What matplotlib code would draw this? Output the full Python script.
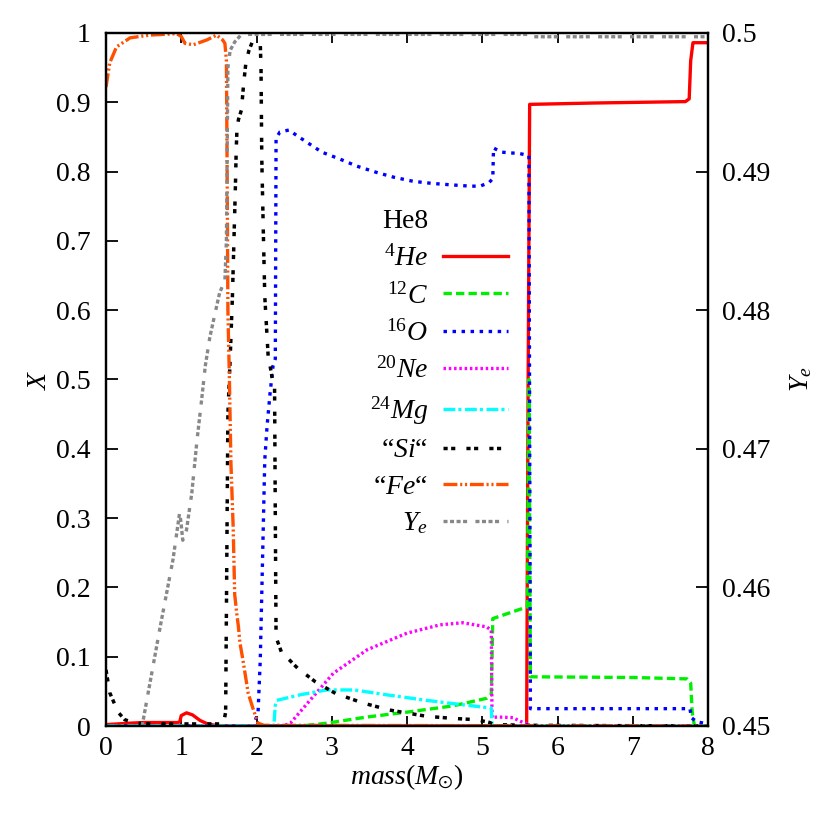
import matplotlib
matplotlib.use("Agg")
import matplotlib.pyplot as plt
from matplotlib.lines import Line2D
from matplotlib.ticker import FormatStrFormatter

plt.rcParams['font.family'] = 'serif'
plt.rcParams['font.serif'] = ['Liberation Serif', 'DejaVu Serif']
plt.rcParams['mathtext.fontset'] = 'custom'
plt.rcParams['mathtext.rm'] = 'Liberation Serif'
plt.rcParams['mathtext.it'] = 'Liberation Serif:italic'
plt.rcParams['mathtext.bf'] = 'Liberation Serif:bold'
plt.rcParams['mathtext.fallback'] = 'stix'
plt.rcParams['lines.scale_dashes'] = False

# ---------------- data ----------------
he4_x = [0, 0.3, 0.5, 0.95, 0.98, 1.0, 1.07, 1.15, 1.25, 1.35, 1.45, 1.6,
         5.59, 5.61, 5.63, 6.5, 7.7, 7.75, 7.77, 7.8, 8.0]
he4_y = [0.002, 0.004, 0.005, 0.005, 0.006, 0.015, 0.019, 0.016, 0.008, 0.003, 0.001, 0.0,
         0.0, 0.5, 0.897, 0.899, 0.901, 0.905, 0.96, 0.986, 0.986]

c12_x = [0, 2.6, 2.93, 3.47, 4.0, 4.61, 5.06, 5.12, 5.14, 5.6, 5.62, 5.64,
         7.0, 7.72, 7.77, 7.79, 7.82, 8.0]
c12_y = [0, 0, 0.004, 0.013, 0.02, 0.029, 0.04, 0.045, 0.155, 0.172, 0.50, 0.071,
         0.07, 0.068, 0.062, 0.02, 0.0, 0.0]

o16_x = [0, 1.95, 2.02, 2.05, 2.07, 2.09, 2.11, 2.14, 2.18, 2.22, 2.25, 2.26, 2.31,
         2.43, 2.55, 2.66, 2.87, 3.11, 3.33, 3.59, 3.82, 4.08, 4.33, 4.57, 4.84,
         4.97, 5.09, 5.14, 5.15, 5.26, 5.5, 5.62, 5.64, 6.5, 7.76, 7.78, 7.85, 7.95, 8.0]
o16_y = [0, 0, 0.018, 0.095, 0.19, 0.287, 0.384, 0.432, 0.48, 0.52, 0.53, 0.848, 0.857,
         0.86, 0.851, 0.843, 0.828, 0.818, 0.808, 0.799, 0.792, 0.786, 0.783, 0.781, 0.779,
         0.779, 0.784, 0.79, 0.834, 0.828, 0.826, 0.823, 0.025, 0.025, 0.025, 0.012, 0.006, 0.004, 0.002]

ne20_x = [0, 2.35, 2.45, 2.71, 3.02, 3.47, 4.0, 4.44, 4.74, 5.06, 5.12, 5.13,
          5.2, 5.41, 5.5, 5.6, 5.65, 8.0]
ne20_y = [0, 0, 0.004, 0.037, 0.076, 0.11, 0.134, 0.146, 0.149, 0.143, 0.138, 0.012,
          0.013, 0.012, 0.007, 0.003, 0, 0]

mg24_x = [0, 2.23, 2.25, 2.27, 2.58, 2.93, 3.3, 3.73, 4.26, 4.79, 5.12, 5.13, 8.0]
mg24_y = [0, 0, 0.03, 0.037, 0.045, 0.052, 0.052, 0.045, 0.037, 0.03, 0.026, 0.0, 0.0]

si_x = [0, 0.05, 0.16, 0.25, 0.4, 0.6, 1.0, 1.3, 1.56, 1.59, 1.62, 1.65, 1.68, 1.70,
        1.72, 1.73, 1.74, 1.76, 1.8, 1.83, 1.86, 1.9, 1.94, 2.05, 2.06, 2.07, 2.09,
        2.11, 2.16, 2.18, 2.22, 2.24, 2.25, 2.26, 2.33, 2.55, 2.78, 3.05, 3.42, 3.77,
        4.26, 4.61, 4.93, 5.1, 5.15, 5.6, 8.0]
si_y = [0.081, 0.048, 0.02, 0.009, 0.004, 0.003, 0.003, 0.003, 0.003, 0.02, 0.45, 0.53, 0.62, 0.70,
        0.78, 0.83, 0.86, 0.875, 0.889, 0.928, 0.958, 0.975, 0.986, 0.985, 0.95, 0.82, 0.716,
        0.62, 0.524, 0.52, 0.495, 0.49, 0.30, 0.128, 0.107, 0.083, 0.064, 0.047, 0.033, 0.023,
        0.014, 0.011, 0.009, 0.005, 0.002, 0.001, 0.0]

fe_x = [0, 0.05, 0.14, 0.32, 0.58, 0.94, 1.0, 1.05, 1.16, 1.34, 1.47, 1.55, 1.58, 1.6,
        1.61, 1.62, 1.64, 1.66, 1.69, 1.71, 1.74, 1.76, 1.78, 1.82, 1.89, 1.96, 2.02, 2.1, 8.0]
fe_y = [0.922, 0.957, 0.98, 0.993, 0.997, 0.999, 0.995, 0.985, 0.983, 0.99, 0.997, 0.99, 0.985, 0.96,
        0.8, 0.6, 0.5, 0.38, 0.287, 0.19, 0.16, 0.143, 0.12, 0.095, 0.047, 0.023, 0.004, 0.001, 0.0]

ye_x = [0.48, 0.72, 0.89, 0.98, 1.0, 1.02, 1.07, 1.14, 1.21, 1.27, 1.32, 1.38, 1.45, 1.51,
        1.58, 1.6, 1.62, 1.65, 1.71, 1.8, 5.64, 5.66, 8.0]
ye_y = [0.4500, 0.45715, 0.4620, 0.46545, 0.4645, 0.4634, 0.46415, 0.4668, 0.47065, 0.4735,
        0.4760, 0.47805, 0.4798, 0.48125, 0.48215, 0.4850, 0.4975, 0.49875, 0.49935, 0.4999,
        0.4999, 0.49973, 0.49973]

labels = [r'${}^{4}He$', r'${}^{12}C$', r'${}^{16}O$', r'${}^{20}Ne$', r'${}^{24}Mg$',
          '“$Si$“', '“$Fe$“', r'$Y_e$']
legend_title = 'He8'
x_ticks = [0, 1, 2, 3, 4, 5, 6, 7, 8]
y_ticks = [0, 0.1, 0.2, 0.3, 0.4, 0.5, 0.6, 0.7, 0.8, 0.9, 1.0]
ye_ticks = [0.45, 0.46, 0.47, 0.48, 0.49, 0.5]

# ---------------- figure ----------------
FS = 20
fig = plt.figure(figsize=(8.3, 8.3), dpi=100)
ax = fig.add_axes([106/830, 104/830, 602/830, 693/830])
ax2 = ax.twinx()

lw = 2.4
h1, = ax.plot(he4_x, he4_y, color='#ff0000', lw=lw, label=labels[0])
h2, = ax.plot(c12_x, c12_y, color='#00ee00', lw=lw, dashes=(6, 3), label=labels[1])
h3, = ax.plot(o16_x, o16_y, color='#0000ff', lw=lw, dashes=(2.5, 4), label=labels[2])
h4, = ax.plot(ne20_x, ne20_y, color='#ff00ff', lw=lw, dashes=(1.8, 2), label=labels[3])
h5, = ax.plot(mg24_x, mg24_y, color='#00ffff', lw=lw, dashes=(8.5, 2.2, 2.2, 2.6), label=labels[4])
h6, = ax.plot(si_x, si_y, color='#000000', lw=2.5, dashes=(3, 2.5, 3, 8), label=labels[5])
h7, = ax.plot(fe_x, fe_y, color='#ff4f00', lw=lw, dashes=(10, 2, 1.5, 2, 1.5, 2), label=labels[6])
h8, = ax2.plot(ye_x, ye_y, color='#888888', lw=lw,
               dashes=(2.9, 1.8, 2.9, 1.8, 2.9, 1.8, 2.9, 6), label=labels[7])

ax.set_xlim(0, 8)
ax.set_ylim(0, 1)
ax2.set_ylim(0.45, 0.5)

ax.set_xticks(x_ticks)
ax.set_yticks(y_ticks)
ax2.set_yticks(ye_ticks)
ax.xaxis.set_major_formatter(FormatStrFormatter('%g'))
ax.yaxis.set_major_formatter(FormatStrFormatter('%g'))
ax2.yaxis.set_major_formatter(FormatStrFormatter('%g'))

ax.tick_params(axis='x', direction='in', top=True, bottom=True, length=7, width=1.3,
               labelsize=FS, pad=7)
ax.tick_params(axis='y', direction='in', left=True, right=False, length=8.5, width=1.3,
               labelsize=FS, pad=11)
ax2.tick_params(axis='y', direction='in', left=False, right=True, length=8.5, width=1.3,
                labelsize=FS, pad=10)

for a in (ax, ax2):
    for s in a.spines.values():
        s.set_linewidth(1.6)

ax.set_xlabel(r'$mass(M_{\odot})$', fontsize=FS, labelpad=1)
ax.set_ylabel(r'$X$', fontsize=FS, labelpad=3)
ax2.set_ylabel(r'$Y_e$', fontsize=FS, labelpad=13)

title_handle = Line2D([], [], linestyle='none')
handles = [title_handle, h1, h2, h3, h4, h5, h6, h7, h8]
leg_labels = [legend_title] + labels
ax2.legend(handles, leg_labels, loc='upper right',
           bbox_to_anchor=(508/830, 621/830), bbox_transform=fig.transFigure,
           frameon=False, markerfirst=False, fontsize=FS, handlelength=2.34,
           handletextpad=0.54, labelspacing=0.39, borderpad=0, borderaxespad=0)

fig.savefig('out.png', dpi=100)
